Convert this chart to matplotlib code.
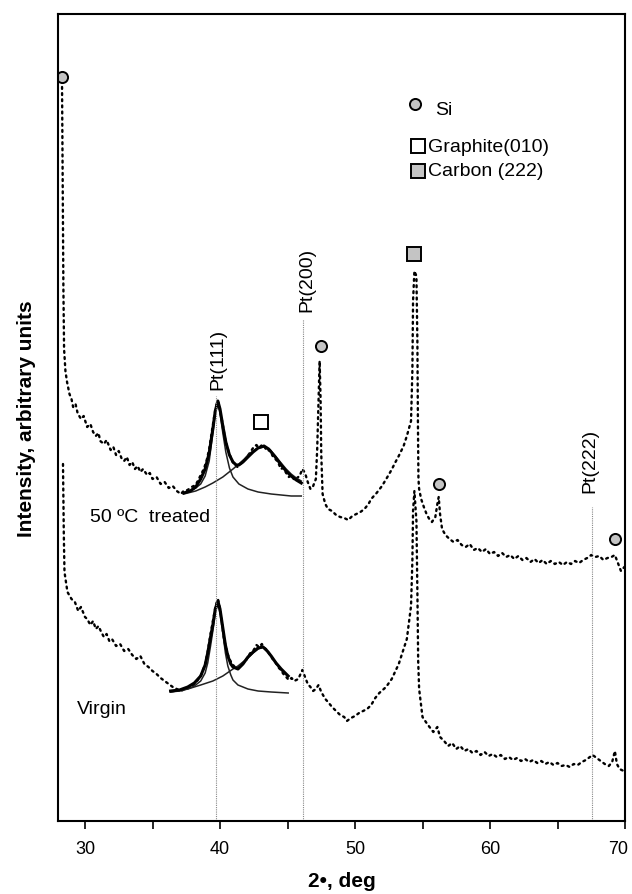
import numpy as np
import matplotlib
matplotlib.use("Agg")
from matplotlib import pyplot as plt
from matplotlib.transforms import ScaledTranslation

plt.rcParams['font.family'] = ['Liberation Sans', 'DejaVu Sans']

# XRD patterns, (2theta deg, intensity a.u.)
treated = [
    (28.30, 734), (28.33, 672), (28.36, 602), (28.40, 532), (28.45, 472), (28.55, 450),
    (28.67, 439), (28.85, 427), (29.00, 422), (29.12, 414), (29.30, 417), (29.45, 408),
    (29.70, 402), (29.90, 405), (30.16, 394), (30.40, 397), (30.60, 389), (30.80, 385),
    (31.00, 388), (31.13, 380), (31.40, 377), (31.60, 381), (31.90, 371), (32.10, 374),
    (32.30, 366), (32.50, 370), (32.70, 363), (32.90, 360), (33.10, 364), (33.30, 356),
    (33.50, 359), (33.70, 352), (33.90, 355), (34.10, 349), (34.30, 352), (34.60, 346),
    (34.80, 348), (35.00, 342), (35.30, 344), (35.60, 337), (35.90, 339), (36.20, 333),
    (36.50, 335), (36.80, 330), (37.10, 327), (37.30, 330), (37.60, 331), (37.90, 334),
    (38.20, 336), (38.50, 344), (38.80, 352), (39.00, 360), (39.20, 372), (39.40, 390),
    (39.60, 407), (39.80, 420), (39.90, 418), (40.00, 410), (40.20, 397), (40.35, 384),
    (40.50, 375), (40.70, 367), (40.90, 360), (41.10, 356), (41.30, 354), (41.50, 357),
    (41.70, 359), (41.90, 362), (42.10, 366), (42.30, 370), (42.50, 374), (42.70, 376),
    (42.90, 373), (43.10, 376), (43.30, 374), (43.50, 370), (43.70, 371), (43.90, 365),
    (44.10, 362), (44.30, 359), (44.50, 352), (44.70, 353), (44.90, 348), (45.10, 344),
    (45.30, 346), (45.50, 341), (45.70, 343), (45.90, 345), (46.10, 352), (46.30, 348),
    (46.50, 339), (46.70, 332), (46.90, 335), (47.10, 342), (47.20, 372), (47.30, 422),
    (47.38, 460), (47.45, 422), (47.50, 367), (47.60, 327), (47.80, 317), (48.00, 312),
    (48.30, 310), (48.60, 306), (48.90, 304), (49.20, 303), (49.50, 301), (49.80, 305),
    (50.10, 307), (50.40, 309), (50.70, 312), (51.00, 317), (51.20, 322), (51.60, 328),
    (52.00, 335), (52.40, 344), (52.70, 351), (53.00, 359), (53.24, 365), (53.60, 375),
    (53.84, 385), (54.15, 400), (54.25, 450), (54.30, 520), (54.40, 550), (54.55, 545),
    (54.62, 480), (54.66, 400), (54.70, 342), (54.75, 332), (54.90, 322), (55.10, 314),
    (55.30, 307), (55.50, 302), (55.70, 299), (55.95, 304), (56.10, 317), (56.20, 324),
    (56.30, 307), (56.45, 292), (56.70, 286), (57.00, 282), (57.30, 279), (57.60, 281),
    (57.90, 276), (58.20, 274), (58.50, 277), (58.80, 271), (59.10, 273), (59.40, 269),
    (59.70, 272), (60.00, 267), (60.30, 269), (60.60, 265), (60.90, 268), (61.20, 264),
    (61.50, 266), (61.80, 262), (62.10, 265), (62.40, 261), (62.70, 263), (63.00, 259),
    (63.30, 262), (63.60, 258), (63.90, 261), (64.20, 257), (64.50, 260), (64.80, 257),
    (65.10, 259), (65.40, 256), (65.70, 259), (66.00, 257), (66.30, 260), (66.60, 258),
    (66.90, 261), (67.20, 263), (67.50, 266), (67.80, 264), (68.10, 265), (68.40, 261),
    (68.70, 263), (69.00, 264), (69.25, 266), (69.50, 257), (69.70, 250), (69.95, 254),
]

virgin = [
    (28.37, 357), (28.40, 322), (28.43, 287), (28.48, 249), (28.70, 229), (29.00, 222),
    (29.25, 219), (29.50, 210), (29.70, 214), (30.00, 204), (30.16, 202), (30.40, 196),
    (30.60, 200), (30.80, 192), (31.00, 195), (31.20, 189), (31.40, 184), (31.60, 187),
    (31.80, 180), (32.00, 182), (32.30, 175), (32.60, 177), (32.90, 170), (33.20, 172),
    (33.50, 166), (33.80, 162), (34.10, 165), (34.40, 157), (34.70, 154), (35.00, 150),
    (35.30, 147), (35.60, 143), (35.90, 140), (36.20, 137), (36.50, 134), (36.80, 132),
    (37.10, 130), (37.40, 132), (37.70, 134), (38.00, 136), (38.30, 140), (38.60, 146),
    (38.90, 157), (39.10, 170), (39.30, 187), (39.50, 202), (39.70, 216), (39.85, 222),
    (40.00, 212), (40.15, 197), (40.30, 182), (40.50, 170), (40.70, 162), (40.90, 157),
    (41.10, 154), (41.30, 152), (41.50, 155), (41.70, 158), (41.90, 160), (42.10, 165),
    (42.30, 169), (42.50, 171), (42.70, 176), (42.90, 174), (43.10, 177), (43.30, 173),
    (43.50, 171), (43.70, 166), (43.90, 162), (44.10, 159), (44.30, 154), (44.50, 151),
    (44.70, 147), (44.90, 144), (45.10, 141), (45.30, 143), (45.50, 140), (45.80, 142),
    (46.10, 151), (46.30, 144), (46.50, 137), (46.70, 134), (46.90, 130), (47.10, 132),
    (47.30, 136), (47.50, 129), (47.80, 122), (48.00, 119), (48.30, 114), (48.60, 110),
    (48.90, 106), (49.20, 104), (49.40, 100), (49.70, 103), (50.00, 105), (50.30, 108),
    (50.60, 110), (50.90, 112), (51.20, 116), (51.50, 123), (51.80, 128), (52.30, 134),
    (52.72, 142), (53.24, 157), (53.84, 182), (54.15, 215), (54.25, 260), (54.30, 310),
    (54.40, 330), (54.55, 300), (54.62, 230), (54.68, 160), (54.75, 132), (55.00, 104),
    (55.35, 97), (55.80, 89), (56.10, 94), (56.30, 84), (56.60, 80), (56.90, 75),
    (57.20, 78), (57.50, 72), (57.80, 75), (58.10, 70), (58.40, 72), (58.70, 68),
    (59.00, 70), (59.30, 66), (59.60, 69), (59.90, 65), (60.20, 67), (60.50, 64),
    (60.80, 66), (61.10, 62), (61.40, 64), (61.70, 61), (62.00, 63), (62.30, 60),
    (62.60, 62), (62.90, 59), (63.20, 61), (63.50, 58), (63.80, 60), (64.10, 57),
    (64.40, 59), (64.70, 56), (65.00, 58), (65.30, 55), (65.60, 56), (65.90, 54),
    (66.20, 57), (66.50, 56), (66.80, 59), (67.10, 61), (67.40, 64), (67.60, 66),
    (67.90, 63), (68.20, 60), (68.50, 57), (68.80, 55), (69.05, 59), (69.25, 70),
    (69.40, 57), (69.60, 52), (69.90, 50),
]

# peak fits: envelope, Pt(111) and graphite components
treated_fit = [
    (37.31, 328), (37.80, 330), (38.20, 334), (38.57, 342), (38.90, 352), (39.20, 368),
    (39.47, 392), (39.65, 410), (39.84, 420), (40.00, 412), (40.21, 395), (40.43, 379),
    (40.70, 366), (40.96, 359), (41.20, 356), (41.40, 356), (41.70, 359), (42.07, 364),
    (42.45, 369), (42.82, 373), (43.26, 375), (43.60, 372), (43.79, 369), (44.10, 364),
    (44.53, 356), (44.90, 350), (45.27, 345), (45.65, 341), (46.02, 338),
]
treated_pt = [
    (37.31, 328), (37.80, 330), (38.20, 333), (38.57, 337), (38.90, 345), (39.20, 360),
    (39.47, 388), (39.65, 408), (39.84, 418), (40.00, 408), (40.21, 388), (40.43, 369),
    (40.70, 353), (40.96, 344), (41.40, 337), (42.07, 332), (42.82, 329), (43.79, 327),
    (44.53, 326), (45.27, 325), (46.02, 325),
]
treated_gr = [
    (37.31, 327), (38.20, 330), (38.90, 334), (39.47, 338), (40.21, 344), (40.96, 352),
    (41.40, 357), (41.80, 362), (42.07, 366), (42.45, 370), (42.82, 373), (43.26, 374),
    (43.60, 372), (43.79, 370), (44.10, 365), (44.53, 358), (44.90, 352), (45.27, 347),
    (45.65, 343), (46.02, 340),
]
virgin_fit = [
    (36.34, 130), (37.00, 131), (37.61, 134), (38.10, 138), (38.57, 145), (38.90, 156),
    (39.09, 168), (39.30, 184), (39.47, 196), (39.65, 212), (39.84, 220), (40.00, 212),
    (40.21, 193), (40.40, 176), (40.58, 165), (40.80, 157), (40.96, 154), (41.33, 152),
    (41.70, 157), (42.07, 164), (42.45, 169), (42.82, 173), (43.19, 174), (43.50, 170),
    (43.79, 165), (44.15, 158), (44.53, 152), (45.05, 145),
]
virgin_pt = [
    (36.34, 129), (37.00, 130), (37.61, 132), (38.10, 135), (38.57, 140), (38.90, 148),
    (39.09, 158), (39.30, 175), (39.47, 190), (39.65, 208), (39.84, 217), (40.00, 208),
    (40.21, 188), (40.40, 168), (40.58, 155), (40.80, 146), (40.96, 141), (41.33, 136),
    (42.07, 132), (42.82, 130), (43.79, 129), (45.05, 128),
]
virgin_gr = [
    (36.34, 129), (37.61, 132), (38.57, 136), (39.47, 140), (40.21, 145), (40.96, 152),
    (41.33, 155), (41.70, 159), (42.07, 163), (42.45, 168), (42.82, 172), (43.19, 174),
    (43.50, 170), (43.79, 165), (44.15, 158), (44.53, 151), (45.05, 145),
]

# Pt reflections: label, 2theta, top of the guide line
pt_names = ["Pt(111)", "Pt(200)", "Pt(222)"]
pt_pos = [39.7, 46.17, 67.55]
pt_top = [425, 502, 314]
pt_label_x = [39.85, 46.4, 67.4]
pt_label_y = [432, 510, 329]

# phase markers above peaks
si_peaks = [(28.33, 744), (47.45, 475), (56.2, 337), (69.25, 282)]
graphite_peaks = [(43.05, 399)]
carbon_peaks = [(54.35, 567)]

fig = plt.figure(figsize=(6.32, 8.95), dpi=100)
ax = fig.add_axes([58 / 632, 1 - 822 / 895, 567 / 632, 807 / 895])

dots = (0, (0.8, 1.8))
for data in (treated, virgin):
    x, y = np.array(data).T
    ax.plot(x, y, color="black", lw=1.7, linestyle=dots, dash_capstyle="round")

for data in (treated_pt, treated_gr, virgin_pt, virgin_gr):
    x, y = np.array(data).T
    ax.plot(x, y, color="#222222", lw=1.1)
for data in (treated_fit, virgin_fit):
    x, y = np.array(data).T
    ax.plot(x, y, color="black", lw=2.2)

for name, xp, top, lx, ly in zip(pt_names, pt_pos, pt_top, pt_label_x, pt_label_y):
    ax.plot([xp, xp], [0, top], color="#888888", lw=0.8, linestyle=(0, (1, 1)))
    ax.text(lx, ly, name, rotation=90, ha="center", va="bottom", fontsize=14)

marker_style = dict(linestyle="none", markeredgecolor="black", markeredgewidth=1.4)
x, y = np.array(si_peaks).T
ax.plot(x, y, marker="o", markersize=8, markerfacecolor="#c4c4c4", **marker_style)
x, y = np.array(graphite_peaks).T
ax.plot(x, y, marker="s", markersize=10, markerfacecolor="white", **marker_style)
x, y = np.array(carbon_peaks).T
ax.plot(x, y, marker="s", markersize=10, markerfacecolor="#c4c4c4", **marker_style)

# legend drawn by hand
tr = ax.transAxes
ax.plot(0.630, 0.889, transform=tr, marker="o", markersize=8,
        markerfacecolor="#c4c4c4", **marker_style)
ax.text(0.665, 0.882, "Si", transform=tr, fontsize=14, va="center")
ax.plot(0.635, 0.8364, transform=tr, marker="s", markersize=10,
        markerfacecolor="white", **marker_style)
ax.text(0.652, 0.8364, "Graphite(010)", transform=tr, fontsize=14, va="center")
ax.plot(0.635, 0.8055, transform=tr, marker="s", markersize=10,
        markerfacecolor="#c4c4c4", **marker_style)
ax.text(0.652, 0.8055, "Carbon (222)", transform=tr, fontsize=14, va="center")

ax.text(30.38, 304, "50 ºC  treated", fontsize=14, va="center")
ax.text(29.41, 112, "Virgin", fontsize=14, va="center")

ax.set_xlim(28, 70)
ax.set_ylim(0, 807)
ax.set_xticks(np.arange(30, 71, 5))
ax.set_xticklabels([str(v) if v % 10 == 0 else "" for v in range(30, 71, 5)])
ax.set_yticks([])
ax.tick_params(axis="x", direction="out", length=6, width=1.2, labelsize=13, pad=8)
for s in ax.spines.values():
    s.set_linewidth(1.5)

# keep the "70" inside the figure edge
last = ax.get_xticklabels()[-1]
last.set_transform(last.get_transform() + ScaledTranslation(-5 / 72, 0, fig.dpi_scale_trans))

ax.set_xlabel("2•, deg", fontsize=15, fontweight="bold", labelpad=10)
ax.set_ylabel("Intensity, arbitrary units", fontsize=15, fontweight="bold", labelpad=16)

fig.savefig("out.png", dpi=100)
